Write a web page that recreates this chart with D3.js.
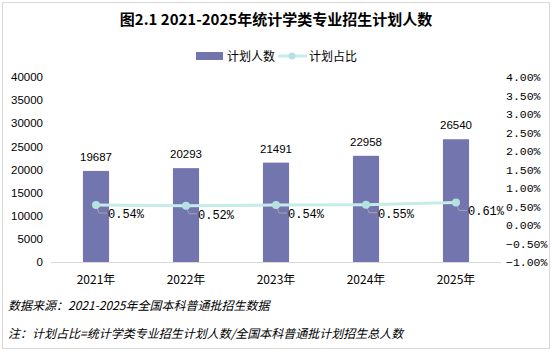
<!DOCTYPE html>
<html>
<head>
<meta charset="utf-8">
<script src="https://cdn.jsdelivr.net/npm/d3@7"></script>
<style>
  body { margin: 0; background: #fff; }
  svg { display: block; }
</style>
</head>
<body>
<svg id="chart"></svg>
<script>
const years = ["2021年", "2022年", "2023年", "2024年", "2025年"];
const planCounts = [19687, 20293, 21491, 22958, 26540];
const planShares = [0.54, 0.52, 0.54, 0.55, 0.61];
const leftTicks = [0, 5000, 10000, 15000, 20000, 25000, 30000, 35000, 40000];
const rightTicks = [-1, -0.5, 0, 0.5, 1, 1.5, 2, 2.5, 3, 3.5, 4];

const width = 553, height = 352;
const plot = { left: 51, right: 501, top: 77, bottom: 262 };
const cjk = "'Noto Sans CJK SC', sans-serif";

const svg = d3.select("#chart").attr("width", width).attr("height", height);

// outer frame
svg.append("rect")
  .attr("x", 2.5).attr("y", 2.5)
  .attr("width", width - 6).attr("height", height - 6)
  .attr("fill", "#fff").attr("stroke", "#d9d9d9");

const x = d3.scaleBand().domain(years).range([plot.left, plot.right]).paddingInner(0.71).paddingOuter(0.355);
const yLeft = d3.scaleLinear().domain([0, 40000]).range([plot.bottom, plot.top]);
const yRight = d3.scaleLinear().domain([-1, 4]).range([plot.bottom, plot.top]);

// title
svg.append("text")
  .attr("x", 276).attr("y", 25)
  .attr("text-anchor", "middle")
  .attr("font-family", cjk).attr("font-weight", "bold").attr("font-size", 15)
  .text("图2.1 2021-2025年统计学类专业招生计划人数");

// legend
const lg = svg.append("g").attr("font-family", cjk).attr("font-size", 12);
lg.append("rect").attr("x", 196).attr("y", 52).attr("width", 27).attr("height", 8).attr("fill", "#7275ae");
lg.append("text").attr("x", 227).attr("y", 60.5).text("计划人数");
lg.append("line").attr("x1", 278).attr("x2", 307).attr("y1", 56).attr("y2", 56)
  .attr("stroke", "#c6ecea").attr("stroke-width", 3);
lg.append("circle").attr("cx", 292).attr("cy", 56).attr("r", 3.5).attr("fill", "#b4e2e0");
lg.append("text").attr("x", 309).attr("y", 60.5).text("计划占比");

// left axis
const axL = svg.append("g")
  .attr("transform", `translate(${plot.left - 8},0)`)
  .call(d3.axisLeft(yLeft).tickValues(leftTicks).tickSize(0).tickPadding(0).tickFormat(d3.format("d")));
axL.select(".domain").remove();
axL.selectAll("text").attr("font-family", "'Liberation Sans', Arial, sans-serif").attr("font-size", 11.5).attr("fill", "#000");

// right axis
const axR = svg.append("g")
  .attr("transform", `translate(${plot.right + 5},0)`)
  .call(d3.axisRight(yRight).tickValues(rightTicks).tickSize(0).tickPadding(0).tickFormat(d => d3.format(".2f")(d) + "%"));
axR.select(".domain").remove();
axR.selectAll("text").attr("font-family", "'Liberation Mono', monospace").attr("font-size", 11.5).attr("fill", "#000");

// bars
svg.append("g").selectAll("rect")
  .data(planCounts)
  .join("rect")
  .attr("x", (d, i) => x(years[i]))
  .attr("y", d => yLeft(d))
  .attr("width", x.bandwidth())
  .attr("height", d => yLeft(0) - yLeft(d))
  .attr("fill", "#7275ae");

// bar labels
svg.append("g").selectAll("text")
  .data(planCounts)
  .join("text")
  .attr("x", (d, i) => x(years[i]) + x.bandwidth() / 2)
  .attr("y", d => yLeft(d) - 10)
  .attr("text-anchor", "middle")
  .attr("font-family", "'Liberation Sans', Arial, sans-serif").attr("font-size", 11.5)
  .text(d => d);

// baseline
svg.append("line")
  .attr("x1", plot.left).attr("x2", plot.right)
  .attr("y1", plot.bottom + 0.5).attr("y2", plot.bottom + 0.5)
  .attr("stroke", "#d9d9d9");

// x axis labels
svg.append("g").selectAll("text")
  .data(years)
  .join("text")
  .attr("x", d => x(d) + x.bandwidth() / 2)
  .attr("y", 284)
  .attr("text-anchor", "middle")
  .attr("font-family", cjk).attr("font-size", 12)
  .text(d => d);

// share line
const cx = (d, i) => x(years[i]) + x.bandwidth() / 2;
const line = d3.line().x(cx).y(d => yRight(d));
svg.append("path")
  .datum(planShares)
  .attr("d", line)
  .attr("fill", "none")
  .attr("stroke", "#c6ecea")
  .attr("stroke-width", 3);

// leader lines
svg.append("g").selectAll("path")
  .data(planShares)
  .join("path")
  .attr("d", (d, i) => {
    const px = cx(d, i), py = yRight(d);
    return `M${px},${py} L${px + 3},${py + 8} L${px + 11},${py + 8}`;
  })
  .attr("fill", "none").attr("stroke", "#a6a6a6");

svg.append("g").selectAll("circle")
  .data(planShares)
  .join("circle")
  .attr("cx", cx)
  .attr("cy", d => yRight(d))
  .attr("r", 4)
  .attr("fill", "#b4e2e0");

svg.append("g").selectAll("text")
  .data(planShares)
  .join("text")
  .attr("x", (d, i) => cx(d, i) + 12)
  .attr("y", d => yRight(d) + 13)
  .attr("font-family", "'Liberation Mono', monospace").attr("font-size", 12)
  .text(d => d3.format(".2f")(d) + "%");

// footnotes
const notes = svg.append("g").attr("font-family", cjk).attr("font-size", 12).attr("font-style", "italic");
notes.append("text").attr("x", 8).attr("y", 310).text("数据来源：2021-2025年全国本科普通批招生数据");
notes.append("text").attr("x", 8).attr("y", 338).text("注：计划占比=统计学类专业招生计划人数/全国本科普通批计划招生总人数");
</script>
</body>
</html>
